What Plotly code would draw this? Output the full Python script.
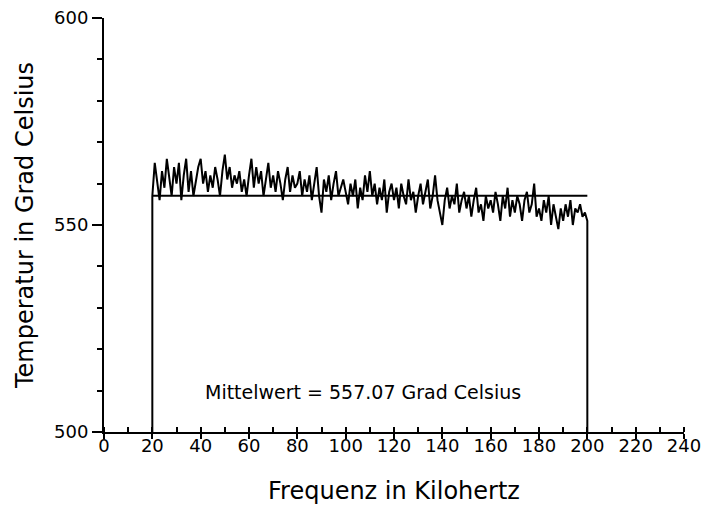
import plotly.graph_objects as go

# Frequency sweep (kHz) and measured temperature (deg C)
freq_khz = list(range(20, 201))
temp_c = [
    557, 565, 560, 556, 563, 559, 566, 561, 557, 564,
    560, 565, 556, 562, 566, 558, 563, 557, 561, 564,
    566, 560, 563, 558, 562, 559, 564, 561, 557, 563,
    567, 561, 564, 559, 562, 560, 563, 558, 561, 557,
    562, 566, 559, 564, 560, 563, 557, 561, 565, 559,
    562, 558, 563, 560, 556, 561, 564, 558, 562, 559,
    560, 563, 557, 561, 558, 562, 556, 560, 564, 557,
    553, 561, 558, 562, 556, 560, 563, 557, 559, 561,
    558, 555, 560, 557, 561, 554, 559, 556, 562, 558,
    563, 557, 560, 555, 559, 556, 561, 553, 558, 560,
    556, 559, 554, 560, 557, 555, 561, 556, 558, 553,
    557, 560, 555, 558, 561, 554, 557, 562, 556, 553,
    550, 556, 559, 554, 557, 555, 560, 553, 556, 558,
    554, 557, 552, 556, 559, 553, 555, 551, 557, 554,
    556, 553, 558, 555, 551, 557, 554, 559, 552, 556,
    553, 557, 555, 551, 556, 558, 553, 555, 560, 552,
    554, 551, 556, 553, 557, 550, 555, 552, 549, 554,
    551, 555, 552, 556, 550, 554, 553, 555, 552, 553,
    551,
]
mean_c = 557.07
y_base = 500
x_ticks = list(range(0, 241, 20))
y_ticks = [500, 550, 600]

FONT = "DejaVu Sans"

fig = go.Figure()

# measured curve, closed down to the axis base at both ends
fig.add_trace(go.Scatter(
    x=[freq_khz[0]] + freq_khz + [freq_khz[-1]],
    y=[y_base] + temp_c + [y_base],
    mode="lines",
    line=dict(color="black", width=2),
    hoverinfo="skip",
))

# mean value line
fig.add_trace(go.Scatter(
    x=[freq_khz[0], freq_khz[-1]],
    y=[mean_c, mean_c],
    mode="lines",
    line=dict(color="black", width=2),
    hoverinfo="skip",
))

fig.add_annotation(
    x=107, y=509.7, xref="x", yref="y",
    text=f"Mittelwert = {mean_c:.2f} Grad Celsius",
    showarrow=False,
    font=dict(family=FONT, size=19, color="black"),
)

fig.update_layout(
    width=704, height=507,
    margin=dict(l=104, r=20, t=18, b=75, autoexpand=False),
    paper_bgcolor="white", plot_bgcolor="white",
    showlegend=False,
    font=dict(family=FONT, color="black"),
)

fig.update_xaxes(
    range=[0, 240],
    automargin=False,
    tickvals=x_ticks,
    ticktext=[str(v) for v in x_ticks],
    ticks="outside", ticklen=5, tickwidth=2, tickcolor="black",
    minor=dict(dtick=10, ticks="inside", ticklen=5, tickwidth=2, tickcolor="black"),
    ticklabelstandoff=-9,
    showline=True, linecolor="black", linewidth=2,
    showgrid=False, zeroline=False,
    tickfont=dict(family=FONT, size=18),
    title=dict(text="Frequenz in Kilohertz", font=dict(family=FONT, size=24), standoff=28),
)

fig.update_yaxes(
    range=[500, 600],
    automargin=False,
    tickvals=y_ticks,
    ticktext=[str(v) for v in y_ticks],
    ticks="outside", ticklen=10, tickwidth=2, tickcolor="black",
    minor=dict(dtick=10, ticks="outside", ticklen=5, tickwidth=2, tickcolor="black"),
    showline=True, linecolor="black", linewidth=2,
    showgrid=False, zeroline=False,
    tickfont=dict(family=FONT, size=18),
    title=dict(text="Temperatur in Grad Celsius", font=dict(family=FONT, size=24), standoff=14),
)

fig.write_html("out.html")
